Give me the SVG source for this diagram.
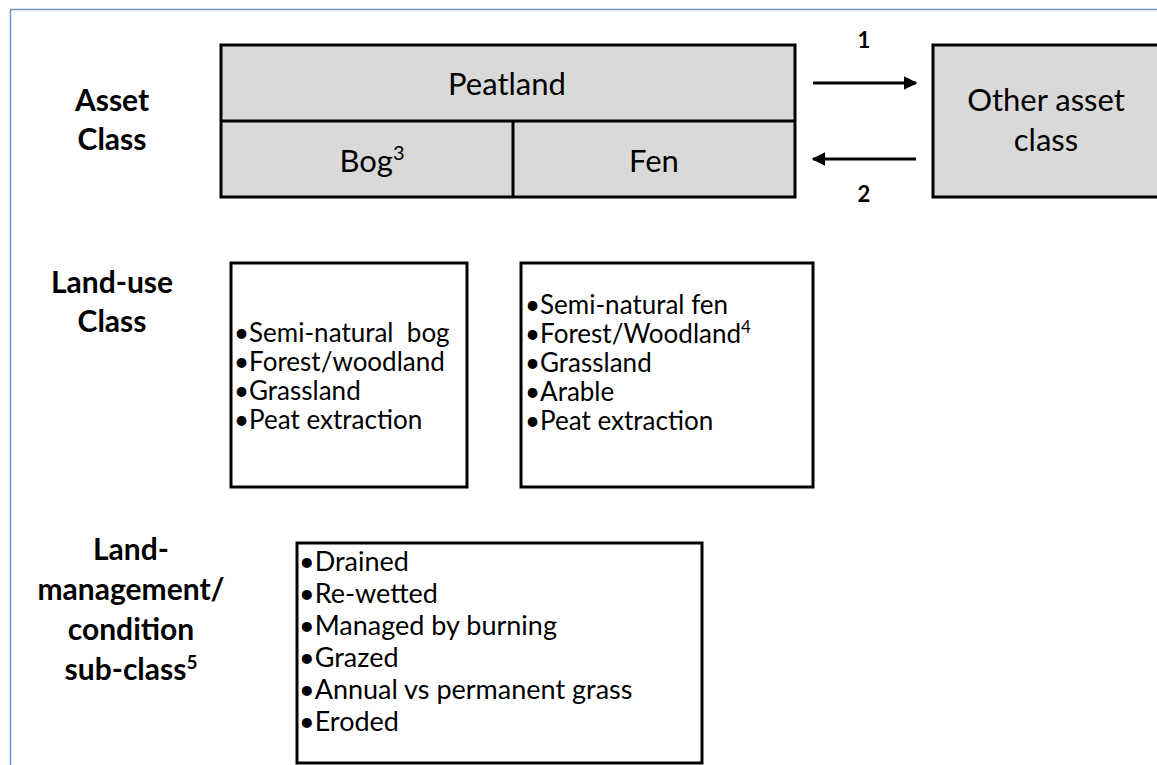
<svg xmlns="http://www.w3.org/2000/svg" width="1157" height="765" viewBox="0 0 1157 765">
<defs>
<style>
.frame{fill:none;stroke:#6f97c9;stroke-width:1.5}
.box{fill:#d9d9d9;stroke:#000;stroke-width:3}
.wbox{fill:#fff;stroke:#000;stroke-width:3}
.div{stroke:#000;stroke-width:3}
.t{font-family:Lato,"Liberation Sans",sans-serif;fill:#000}
.big{font-size:31px}
.hd{font-size:30px;font-weight:bold}
.bul{font-size:26px}
.bul2{font-size:27px}
.num{font-size:22px;font-weight:bold}
.conn{stroke:#000;stroke-width:3;fill:none}
</style>
<marker id="ah" viewBox="0 0 10 10" refX="9" refY="5" markerWidth="4.5" markerHeight="4.5" orient="auto" markerUnits="strokeWidth">
<path d="M0,0 L10,5 L0,10 z" fill="#000"/>
</marker>
</defs>
<rect width="1157" height="765" fill="#fff"/>
<rect class="frame" x="10.5" y="9.5" width="1200" height="800"/>

<g id="label-asset">
<text class="t hd" x="112" y="111" text-anchor="middle">Asset</text>
<text class="t hd" x="112" y="150" text-anchor="middle">Class</text>
</g>
<g id="label-landuse">
<text class="t hd" x="112" y="293" text-anchor="middle">Land-use</text>
<text class="t hd" x="112" y="332" text-anchor="middle">Class</text>
</g>
<g id="label-management">
<text class="t hd" x="131" y="560" text-anchor="middle">Land-</text>
<text class="t hd" x="131" y="600" text-anchor="middle">management/</text>
<text class="t hd" x="131" y="640" text-anchor="middle">condition</text>
<text class="t hd" x="131" y="680" text-anchor="middle">sub-class<tspan font-size="19" dy="-11">5</tspan></text>
</g>

<g id="peatland">
<rect class="box" x="221" y="45" width="574" height="152"/>
<line class="div" x1="221" y1="121" x2="795" y2="121"/>
<text class="t big" x="507" y="95" text-anchor="middle">Peatland</text>
</g>
<g id="bog">
<line class="div" x1="513" y1="121" x2="513" y2="197"/>
<text class="t big" x="372" y="172" text-anchor="middle">Bog<tspan font-size="20" dy="-12">3</tspan></text>
</g>
<g id="fen">
<text class="t big" x="654" y="172" text-anchor="middle">Fen</text>
</g>
<g id="other">
<rect class="box" x="933" y="45" width="240" height="152"/>
<text class="t big" x="1046" y="111" text-anchor="middle">Other asset</text>
<text class="t big" x="1046" y="151" text-anchor="middle">class</text>
</g>

<g id="connectors">
<line class="conn" x1="813" y1="83" x2="916" y2="83" marker-end="url(#ah)"/>
<line class="conn" x1="916" y1="159" x2="813" y2="159" marker-end="url(#ah)"/>
<text class="t num" x="864" y="48" text-anchor="middle">1</text>
<text class="t num" x="864" y="202" text-anchor="middle">2</text>
</g>

<g id="landuse-bog">
<rect class="wbox" x="231" y="263" width="236" height="224"/>
<text class="t bul" x="234" y="342" xml:space="preserve">•Semi-natural  bog</text>
<text class="t bul" x="234" y="371">•Forest/woodland</text>
<text class="t bul" x="234" y="400">•Grassland</text>
<text class="t bul" x="234" y="429">•Peat extraction</text>
</g>
<g id="landuse-fen">
<rect class="wbox" x="521" y="263" width="292" height="224"/>
<text class="t bul" x="525" y="314">•Semi-natural fen</text>
<text class="t bul" x="525" y="343">•Forest/Woodland<tspan font-size="17" dy="-10">4</tspan></text>
<text class="t bul" x="525" y="372">•Grassland</text>
<text class="t bul" x="525" y="401">•Arable</text>
<text class="t bul" x="525" y="430">•Peat extraction</text>
</g>
<g id="management">
<rect class="wbox" x="297" y="543" width="405" height="220"/>
<text class="t bul2" x="299" y="571">•Drained</text>
<text class="t bul2" x="299" y="603">•Re-wetted</text>
<text class="t bul2" x="299" y="635">•Managed by burning</text>
<text class="t bul2" x="299" y="667">•Grazed</text>
<text class="t bul2" x="299" y="699">•Annual vs permanent grass</text>
<text class="t bul2" x="299" y="731">•Eroded</text>
</g>
</svg>
